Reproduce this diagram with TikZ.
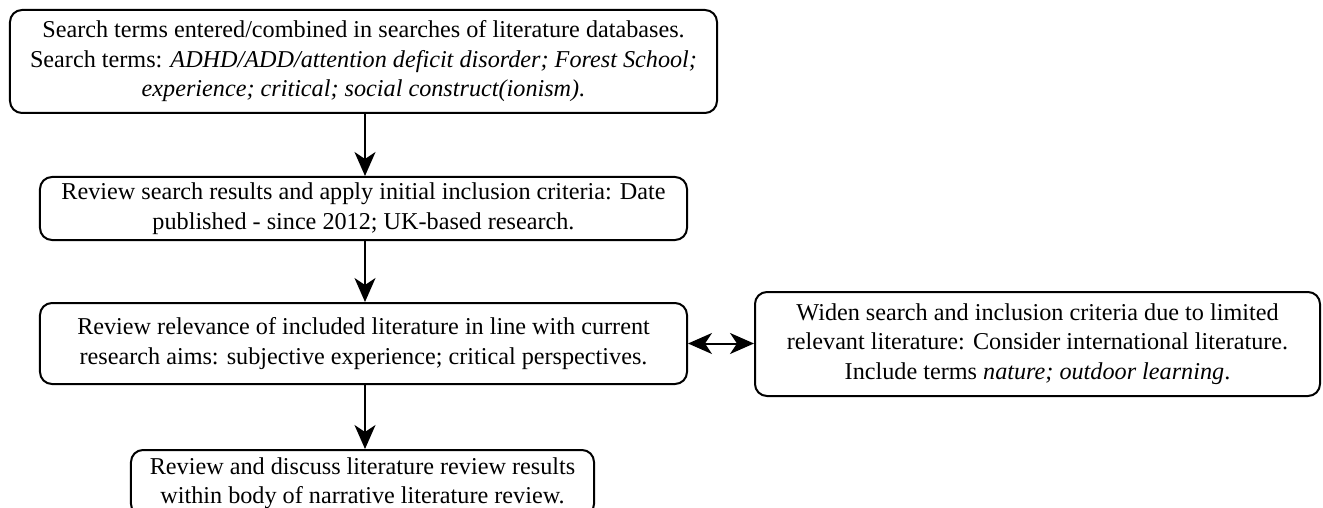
\documentclass[tikz,border=0pt]{standalone}
\usepackage{fontspec}
\setmainfont{Liberation Serif}
\usetikzlibrary{arrows.meta}
\begin{document}
\begin{tikzpicture}[x=1bp,y=-1bp,
  box/.style={draw, line width=2bp, rounded corners=12bp, align=center, inner sep=0pt,
    font=\fontsize{24.2bp}{29.5bp}\selectfont},
  tip/.style={},
  conn/.style={line width=2bp, -{Stealth[length=24bp,width=21bp,inset=7bp]}},
  dconn/.style={line width=2bp, {Stealth[length=24bp,width=21bp,inset=7bp]}-{Stealth[length=24bp,width=21bp,inset=7bp]}}]
\useasboundingbox (0,0) rectangle (1323,508);
\node[box, minimum width=707bp, minimum height=103bp] (b1) at (363.5,61.5)
  {Search terms entered/combined in searches of literature databases.\\
   Search terms: \textit{ADHD/ADD/attention deficit disorder; Forest School;}\\
   \textit{experience; critical; social construct(ionism).}};
\node[box, minimum width=647bp, minimum height=63bp] (b2) at (363.5,208.5)
  {Review search results and apply initial inclusion criteria: Date\\
   published - since 2012; UK-based research.};
\node[box, minimum width=647bp, minimum height=81bp] (b3) at (363.5,343.5)
  {Review relevance of included literature in line with current\\
   research aims: subjective experience; critical perspectives.};
\node[box, minimum width=565bp, minimum height=104bp] (b5) at (1037.5,344)
  {Widen search and inclusion criteria due to limited\\
   relevant literature: Consider international literature.\\
   Include terms \textit{nature; outdoor learning}.};
\node[box, minimum width=463bp, minimum height=66bp] (b4) at (362.5,483)
  {Review and discuss literature review results\\
   within body of narrative literature review.};
\draw[conn] (b1.south -| 365,0) -- (b2.north -| 365,0);
\draw[conn] (b2.south -| 365,0) -- (b3.north -| 365,0);
\draw[conn] (b3.south -| 365,0) -- (b4.north -| 365,0);
\draw[dconn] (b3.east) -- (b5.west |- b3.east);
\end{tikzpicture}
\end{document}
